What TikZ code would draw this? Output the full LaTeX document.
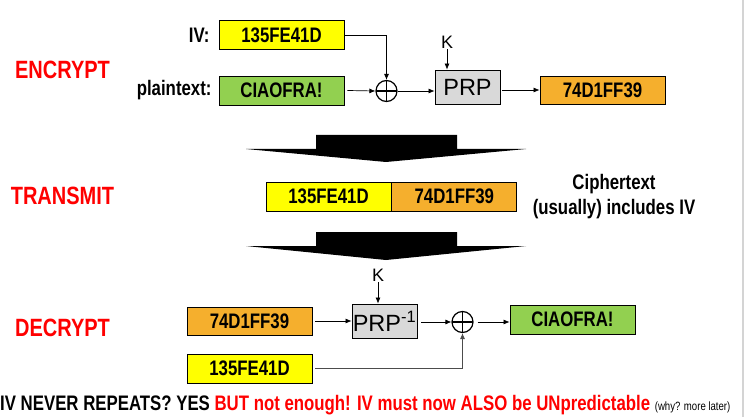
\documentclass[tikz,border=0pt]{standalone}
\usepackage{fontspec}
\setmainfont{Liberation Sans}
\newfontfamily\narrowfont[FakeStretch=0.8]{Liberation Sans}
\usetikzlibrary{arrows.meta, positioning}
\definecolor{ivyellow}{RGB}{255,255,0}
\definecolor{ptgreen}{RGB}{146,208,80}
\definecolor{ctorange}{RGB}{245,175,45}
\definecolor{prpgray}{RGB}{217,217,217}
\definecolor{edgegray}{RGB}{212,212,212}
\definecolor{wordred}{RGB}{255,0,0}

\begin{document}
\begin{tikzpicture}[
  x=1pt, y=-1pt,
  valbox/.style={draw, line width=0.8pt, minimum width=125pt, minimum height=29pt, inner sep=0pt, font=\narrowfont\bfseries\fontsize{21}{25}\selectfont},
  prpbox/.style={draw, line width=0.8pt, fill=prpgray, minimum width=65pt, minimum height=34pt, inner sep=0pt, font=\fontsize{23.5}{27}\selectfont},
  xorop/.style={circle, draw, line width=1.2pt, minimum size=21pt, inner sep=0pt,
    path picture={\draw[line width=1.2pt] (path picture bounding box.north) -- (path picture bounding box.south)
      (path picture bounding box.west) -- (path picture bounding box.east);}},
  phase/.style={text=wordred, font=\narrowfont\bfseries\fontsize{25}{29}\selectfont},
  lbl/.style={font=\narrowfont\bfseries\fontsize{21}{25}\selectfont},
  klbl/.style={inner sep=1pt, font=\fontsize{18}{21}\selectfont},
  arr/.style={-{Latex[length=6pt,width=5pt]}, line width=0.7pt},
  bigarrow/.style={fill=black}
]
\useasboundingbox (0,0) rectangle (747,417);
\draw[line width=2pt, edgegray] (742.5,0) -- (742.5,417);

% encrypt
\node[phase] (encrypt) at (62.5,70) {ENCRYPT};
\node[valbox, fill=ivyellow] (iv) at (281.5,35) {135FE41D};
\node[lbl, anchor=east] (ivlbl) at (213,35) {IV:};
\node[valbox, fill=ptgreen] (pt) at (281.5,90.5) {CIAOFRA!};
\node[lbl, anchor=east] (ptlbl) at (215,90.5) {plaintext:};
\node[xorop] (xorenc) at (386.5,91) {};
\node[prpbox] (prp) at (467.5,87) {PRP};
\node[klbl] (kenc) at (447,42) {K};
\node[valbox, fill=ctorange, minimum height=28pt] (ct) at (602.5,90) {74D1FF39};

\draw[arr] (iv.east) -| (xorenc.north);
\draw[arr] ([xshift=3pt]pt.east) -- (xorenc.west);
\draw[arr] (xorenc.east) -- (xorenc.east -| prp.west);
\draw[arr] (kenc.south) -- (kenc.south |- prp.north);
\draw[arr] ([xshift=2pt]prp.east |- ct.west) -- (ct.west);

\fill[bigarrow] (316,135) -- (457,135) -- (457,149) -- (526,149) -- (386,162)
  -- (246,149) -- (316,149) -- cycle;

% transmit
\node[phase] (transmit) at (62.5,196) {TRANSMIT};
\node[valbox, fill=ivyellow] (tiv) at (328.5,196.5) {135FE41D};
\node[valbox, fill=ctorange, anchor=west] (tct) at (tiv.east) {74D1FF39};
\node[lbl, align=center] (note) at (614,196.5) {Ciphertext\\(usually) includes IV};

\fill[bigarrow] (316,232) -- (457,232) -- (457,246) -- (526,246) -- (386,260)
  -- (246,246) -- (316,246) -- cycle;

% decrypt
\node[phase] (decrypt) at (62.5,328) {DECRYPT};
\node[valbox, fill=ctorange, minimum height=28pt] (dct) at (249.5,321) {74D1FF39};
\node[prpbox] (prpinv) at (384.5,321) {PRP\textsuperscript{-1}};
\node[klbl] (kdec) at (378,275) {K};
\node[xorop] (xordec) at (462.5,322) {};
\node[valbox, fill=ptgreen] (dpt) at (572.5,319.5) {CIAOFRA!};
\node[valbox, fill=ivyellow] (div) at (249.5,368.5) {135FE41D};

\draw[arr] ([xshift=3pt]dct.east) -- (prpinv.west);
\draw[arr] (kdec.south) -- (kdec.south |- prpinv.north);
\draw[arr] ([xshift=4pt]prpinv.east |- xordec.west) -- (xordec.west);
\draw[arr] ([xshift=4pt]xordec.east) -- (xordec.east -| dpt.west);
\draw[arr, black!70] ([xshift=3pt]div.east) -| (xordec.south);

% bottom remark
\node[lbl, anchor=west, inner sep=0pt] (remark) at (0,405)
  {IV NEVER REPEATS? YES \textcolor{wordred}{BUT not enough! IV must now ALSO be UNpredictable} {\fontsize{12}{14}\selectfont\mdseries (why? more later)}};
\end{tikzpicture}
\end{document}
